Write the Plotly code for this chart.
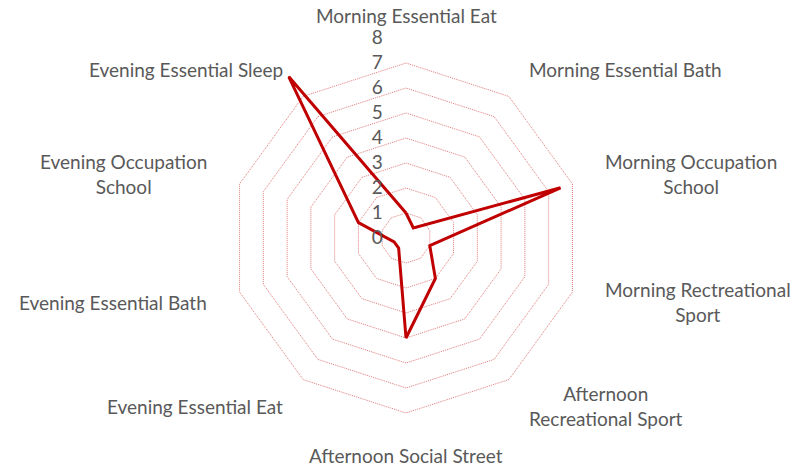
import math
import plotly.graph_objects as go

categories = [
    "Morning Essential Eat",
    "Morning Essential Bath",
    "Morning Occupation<br>School",
    "Morning Rectreational<br>Sport",
    "Afternoon<br>Recreational Sport",
    "Afternoon Social Street",
    "Evening Essential Eat",
    "Evening Essential Bath",
    "Evening Occupation<br>School",
    "Evening Essential Sleep",
]
values = [1, 0.5, 6.5, 1, 2, 4, 0.5, 0.5, 2, 8]
radial_ticks = [0, 1, 2, 3, 4, 5, 6, 7, 8]

W, H = 801, 469
cx, cy, R = 406, 238, 200
GRID = "#e07a7a"
TEXT = "#595959"
FONT = "Lato, Calibri, sans-serif"

fig = go.Figure()
fig.add_trace(go.Scatterpolar(
    r=values + values[:1],
    theta=categories + categories[:1],
    mode="lines",
    line=dict(color="#c00000", width=3),
    hoverinfo="skip",
    showlegend=False,
))

# Category labels placed just outside each polygon vertex, centred text blocks
annotations = []
n = len(categories)
for i, name in enumerate(categories):
    a = 2 * math.pi * i / n
    s, c = math.sin(a), math.cos(a)
    pad = 8 if abs(s) > 0.1 else (10 if c > 0 else 5)
    px = cx + (R + pad) * s
    py = cy - (R + pad) * c
    if abs(s) < 0.1:
        xa = "center"
    elif s > 0:
        xa = "left"
    else:
        xa = "right"
    if abs(s) < 0.1:
        ya = "bottom" if c > 0 else "top"
    else:
        ya = "middle"
    annotations.append(dict(
        x=px / W, y=1 - py / H, xref="paper", yref="paper",
        text=name, showarrow=False, xanchor=xa, yanchor=ya, align="center",
        borderpad=0,
        font=dict(family=FONT, size=19, color=TEXT),
    ))

fig.update_layout(
    width=W, height=H,
    margin=dict(l=0, r=0, t=0, b=0),
    paper_bgcolor="white",
    plot_bgcolor="white",
    font=dict(family=FONT, color=TEXT, size=19),
    annotations=annotations,
    polar=dict(
        bgcolor="white",
        gridshape="linear",
        domain=dict(x=[(cx - R) / W, (cx + R) / W],
                    y=[1 - (cy + R) / H, 1 - (cy - R) / H]),
        radialaxis=dict(
            range=[0, 8],
            tickvals=radial_ticks,
            ticktext=[str(t) for t in radial_ticks],
            angle=90,
            tickangle=90,
            side="counterclockwise",
            showline=False,
            ticks="outside",
            ticklen=16,
            tickcolor="rgba(0,0,0,0)",
            gridcolor=GRID,
            griddash="1px,1px",
            gridwidth=1,
            tickfont=dict(family=FONT, size=19, color=TEXT),
        ),
        angularaxis=dict(
            direction="clockwise",
            rotation=90,
            showgrid=False,
            showline=False,
            showticklabels=False,
            ticks="",
        ),
    ),
)

fig.write_html("out.html")
